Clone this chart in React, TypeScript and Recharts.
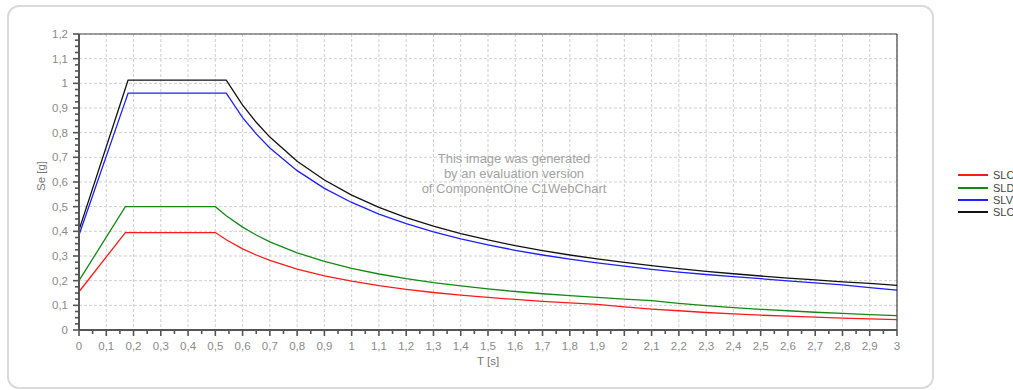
import { CartesianGrid, Line, LineChart, ReferenceLine, XAxis, YAxis } from 'recharts'

// periods T [s] where the spectra were read
const periods = [
  0, 0.17, 0.18, 0.5, 0.54, 0.6, 0.65, 0.7, 0.8, 0.9, 1.0, 1.1, 1.2, 1.3, 1.4, 1.5, 1.6, 1.7, 1.8, 1.9, 2.0, 2.1, 2.2,
  2.3, 2.4, 2.5, 2.6, 2.7, 2.8, 2.9, 3.0,
]
const sloValues = [
  0.155, 0.395, 0.395, 0.395, 0.366, 0.329, 0.304, 0.282, 0.247, 0.219, 0.198, 0.18, 0.165, 0.152, 0.141, 0.132, 0.124,
  0.116, 0.11, 0.104, 0.094, 0.085, 0.078, 0.071, 0.065, 0.06, 0.056, 0.052, 0.048, 0.045, 0.042,
]
const sldValues = [
  0.2, 0.5, 0.5, 0.5, 0.463, 0.417, 0.385, 0.357, 0.313, 0.278, 0.25, 0.227, 0.208, 0.192, 0.179, 0.167, 0.156, 0.147,
  0.139, 0.132, 0.125, 0.119, 0.108, 0.099, 0.091, 0.084, 0.078, 0.072, 0.067, 0.062, 0.058,
]
const slvValues = [
  0.385, 0.928, 0.96, 0.96, 0.96, 0.861, 0.795, 0.738, 0.646, 0.574, 0.517, 0.47, 0.431, 0.398, 0.369, 0.345, 0.323,
  0.304, 0.287, 0.272, 0.259, 0.246, 0.235, 0.225, 0.216, 0.208, 0.199, 0.191, 0.183, 0.172, 0.162,
]
const slcValues = [
  0.405, 0.979, 1.013, 1.013, 1.013, 0.912, 0.842, 0.782, 0.684, 0.608, 0.547, 0.497, 0.456, 0.421, 0.391, 0.365,
  0.342, 0.322, 0.304, 0.288, 0.274, 0.261, 0.249, 0.238, 0.228, 0.219, 0.21, 0.203, 0.195, 0.189, 0.181,
]

const xMajorTicks = [
  0, 0.1, 0.2, 0.3, 0.4, 0.5, 0.6, 0.7, 0.8, 0.9, 1, 1.1, 1.2, 1.3, 1.4, 1.5, 1.6, 1.7, 1.8, 1.9, 2, 2.1, 2.2, 2.3, 2.4,
  2.5, 2.6, 2.7, 2.8, 2.9, 3,
]
const yMajorTicks = [0, 0.1, 0.2, 0.3, 0.4, 0.5, 0.6, 0.7, 0.8, 0.9, 1, 1.1, 1.2]

const series = [
  { key: 'slo', name: 'SLO', color: '#ff1a1a' },
  { key: 'sld', name: 'SLD', color: '#128a12' },
  { key: 'slv', name: 'SLV', color: '#1f1fff' },
  { key: 'slc', name: 'SLC', color: '#111111' },
]

const data = periods.map((t, i) => ({
  t,
  slo: sloValues[i],
  sld: sldValues[i],
  slv: slvValues[i],
  slc: slcValues[i],
}))

// minor ticks: halves on x, quarters on y
const xTicks: number[] = []
xMajorTicks.forEach((v, i) => {
  xTicks.push(v)
  if (i < xMajorTicks.length - 1) xTicks.push(+((v + xMajorTicks[i + 1]) / 2).toFixed(3))
})
const yTicks: number[] = []
yMajorTicks.forEach((v, i) => {
  yTicks.push(v)
  if (i < yMajorTicks.length - 1) {
    const step = (yMajorTicks[i + 1] - v) / 4
    for (let k = 1; k < 4; k++) yTicks.push(+(v + step * k).toFixed(3))
  }
})

const fmt = (v: number) => String(+v.toFixed(2)).replace('.', ',')
const FONT = '"Liberation Sans", Arial, sans-serif'
const AXIS = '#555'
const LABEL = '#8a8a8a'

function XTick({ x, y, payload, index }: any) {
  const major = index % 2 === 0
  return (
    <g>
      <line x1={x} y1={y} x2={x} y2={y + (major ? 6 : 4)} stroke={AXIS} strokeWidth={1.6} />
      {major && (
        <text x={x} y={y + 20} textAnchor="middle" fontSize={11.5} fontFamily={FONT} fill={LABEL}>
          {fmt(payload.value)}
        </text>
      )}
    </g>
  )
}

function YTick({ x, y, payload, index }: any) {
  const major = index % 4 === 0
  return (
    <g>
      <line x1={x} y1={y} x2={x - (major ? 6 : 4)} y2={y} stroke={AXIS} strokeWidth={1.6} />
      {major && (
        <text x={x - 11} y={y + 4} textAnchor="end" fontSize={11.5} fontFamily={FONT} fill={LABEL}>
          {fmt(payload.value)}
        </text>
      )}
    </g>
  )
}

export default function App() {
  return (
    <div style={{ position: 'absolute', left: 0, top: 0, width: 1013, height: 390, overflow: 'hidden', background: '#fff' }}>
      <div
        style={{
          position: 'absolute',
          left: 7,
          top: 5,
          width: 927,
          height: 384,
          border: '2px solid #dadada',
          borderRadius: 12,
          boxSizing: 'border-box',
        }}
      />
      <LineChart
        width={1013}
        height={390}
        data={data}
        margin={{ top: 34, right: 116, bottom: 38, left: 0 }}
        style={{ position: 'absolute', left: 0, top: 0 }}
      >
        <CartesianGrid
          stroke="#cfcfcf"
          strokeDasharray="3 2"
          verticalValues={xMajorTicks}
          horizontalValues={yMajorTicks}
        />
        <XAxis
          dataKey="t"
          type="number"
          domain={[0, 3]}
          ticks={xTicks}
          interval={0}
          height={22}
          tickSize={0}
          tickMargin={0}
          tick={<XTick />}
          axisLine={{ stroke: AXIS, strokeWidth: 2 }}
          tickLine={false}
        />
        <YAxis
          type="number"
          domain={[0, 1.2]}
          ticks={yTicks}
          interval={0}
          width={79}
          tickSize={0}
          tickMargin={0}
          tick={<YTick />}
          axisLine={{ stroke: AXIS, strokeWidth: 2 }}
          tickLine={false}
        />
        <ReferenceLine y={1.2} stroke="#444" strokeWidth={1.2} ifOverflow="visible" />
        <ReferenceLine x={3} stroke="#444" strokeWidth={1.2} ifOverflow="visible" />
        {series.map((s) => (
          <Line
            key={s.key}
            type="linear"
            dataKey={s.key}
            name={s.name}
            stroke={s.color}
            strokeWidth={1.3}
            dot={false}
            activeDot={false}
            isAnimationActive={false}
          />
        ))}
      </LineChart>

      {/* axis titles */}
      <div
        style={{
          position: 'absolute',
          left: 41,
          top: 176,
          transform: 'translate(-50%, -50%) rotate(-90deg)',
          fontFamily: FONT,
          fontSize: 11.5,
          color: '#777',
          whiteSpace: 'nowrap',
        }}
      >
        Se [g]
      </div>
      <div
        style={{
          position: 'absolute',
          left: 488,
          top: 361,
          transform: 'translate(-50%, -50%)',
          fontFamily: FONT,
          fontSize: 11.5,
          color: '#777',
          whiteSpace: 'nowrap',
        }}
      >
        T [s]
      </div>

      {/* evaluation watermark */}
      <div
        style={{
          position: 'absolute',
          left: 514,
          top: 173,
          transform: 'translate(-50%, -50%)',
          fontFamily: FONT,
          fontSize: 13,
          lineHeight: '15px',
          color: '#a3a3a3',
          textAlign: 'center',
          whiteSpace: 'nowrap',
          pointerEvents: 'none',
        }}
      >
        This image was generated
        <br />
        by an evaluation version
        <br />
        of ComponentOne C1WebChart
      </div>

      {/* legend */}
      <div style={{ position: 'absolute', left: 958, top: 169, fontFamily: FONT, fontSize: 11, color: '#444' }}>
        {series.map((s) => (
          <div key={s.key} style={{ display: 'flex', alignItems: 'center', height: 12.4, whiteSpace: 'nowrap' }}>
            <span style={{ display: 'inline-block', width: 30, height: 2, background: s.color, marginRight: 5 }} />
            {s.name}
          </div>
        ))}
      </div>
    </div>
  )
}
